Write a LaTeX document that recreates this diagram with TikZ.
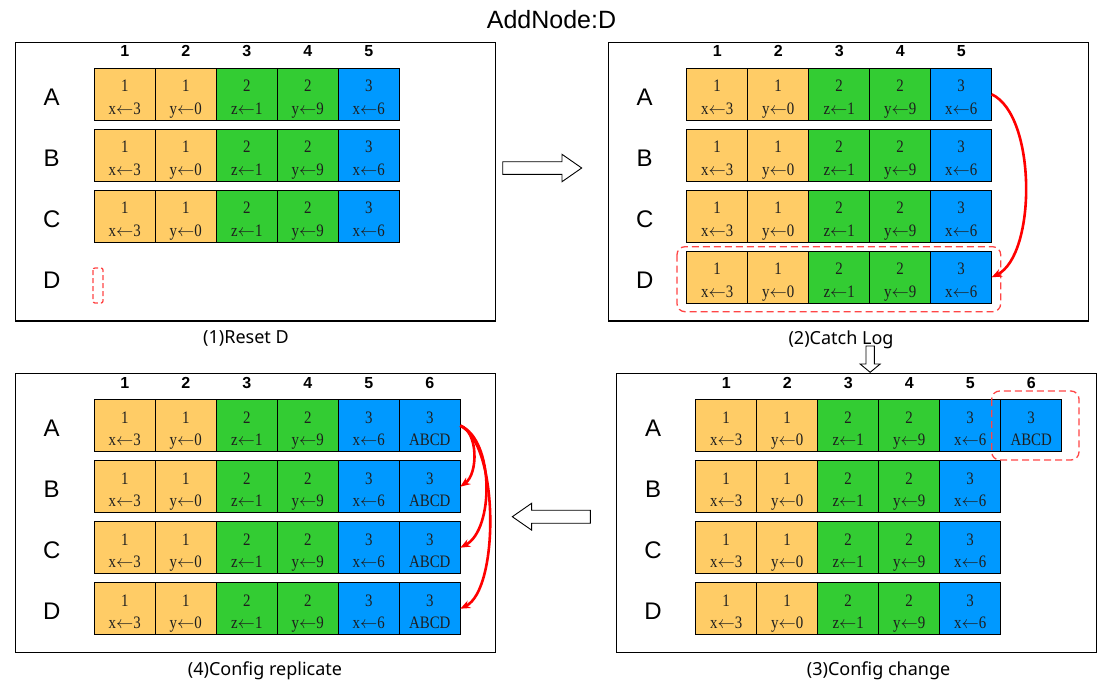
\documentclass[tikz,border=0pt]{standalone}
\usepackage{fontspec}
\setmainfont{Liberation Sans}
\newfontfamily\capfont{Noto Sans}
\newfontfamily\cellfont[FakeStretch=0.85]{Liberation Serif}
\usetikzlibrary{calc,arrows.meta}

\definecolor{corange}{HTML}{FFCC66}
\definecolor{cgreen}{HTML}{33CC33}
\definecolor{cblue}{HTML}{0099FF}
\definecolor{dashred}{HTML}{FF4545}
\definecolor{celltext}{HTML}{1E1E1E}

\newcommand\larr{$\leftarrow$}

\tikzset{
 panel/.style={draw=black, line width=1.2pt, minimum width=480pt, minimum height=278.7pt, inner sep=0pt, outer sep=0pt, anchor=north west},
 cell/.style={draw=black, line width=1.1pt, minimum width=61pt, minimum height=52pt, inner sep=0pt, outer sep=0pt, anchor=north west},
 celltxt/.style={font=\cellfont\fontsize{17.5}{17.5}\selectfont, inner sep=0pt, anchor=base, text=celltext},
 rowlab/.style={font=\fontsize{24}{24}\selectfont, inner sep=0pt, anchor=base},
 colhead/.style={font=\bfseries\fontsize{16}{16}\selectfont, inner sep=0pt, anchor=base},
 captxt/.style={font=\capfont\fontsize{18}{18}\selectfont, inner sep=0pt, anchor=base},
 hollow/.style={draw=black, line width=0.9pt, fill=white, line join=miter},
 redarrow/.style={draw=red, line width=2.6pt, -{Stealth[length=10pt,width=8pt]}},
 dashbox/.style={draw=dashred, line width=1.3pt, dash pattern=on 7pt off 4pt, rounded corners=8pt},
}

\def\cellsfive{1/1/x\larr3/corange,2/1/y\larr0/corange,3/2/z\larr1/cgreen,4/2/y\larr9/cgreen,5/3/x\larr6/cblue}
\def\cellssix{1/1/x\larr3/corange,2/1/y\larr0/corange,3/2/z\larr1/cgreen,4/2/y\larr9/cgreen,5/3/x\larr6/cblue,6/3/ABCD/cblue}

% #1 name prefix, #2 x of first cell, #3 top y, #4 cell list
\newcommand\cellrow[4]{%
  \foreach \i/\a/\b/\c in #4 {
    \node[cell, fill=\c] (#1\i) at ({#2+61*(\i-1)}, #3) {};
    \node[celltxt] (#1\i t) at ($(#1\i.north)+(0,23.4)$) {\a};
    \node[celltxt] (#1\i b) at ($(#1\i.north)+(0,45.7)$) {\b};
  }}

% #1 prefix, #2 x of first cell centre, #3 baseline y, #4 count
\newcommand\colheads[4]{%
  \foreach \i in {1,...,#4} {
    \node[colhead] (#1h\i) at ({#2+61*(\i-1)}, #3) {\i};
  }}

% #1 prefix, #2 label x, #3 first row top y, #4 letters
\newcommand\rowlabels[4]{%
  \foreach \L [count=\k] in {#4} {
    \node[rowlab] (#1l\L) at (#2, {#3+61*(\k-1)+37}) {\L};
  }}

\begin{document}
\begin{tikzpicture}[x=1pt,y=-1pt]
\useasboundingbox (0,0) rectangle (1098,683);

\node[font=\fontsize{25}{25}\selectfont, inner sep=0pt, anchor=base] (title) at (551.5,28.5) {AddNode:D};

% ---------- Panel 1 ----------
\node[panel] (P1) at (15.3,42.3) {};
\colheads{p1}{124.8}{56.7}{5}
\rowlabels{p1}{51.7}{68.3}{A,B,C,D}
\cellrow{p1A}{94.3}{68.3}{\cellsfive}
\cellrow{p1B}{94.3}{129.3}{\cellsfive}
\cellrow{p1C}{94.3}{190.3}{\cellsfive}
\draw[dashbox, rounded corners=2pt, dash pattern=on 5pt off 3pt] (93,268) rectangle (103,303);
\node[captxt] (cap1) at (246,343.5) {(1)Reset D};

% ---------- Panel 2 ----------
\node[panel] (P2) at (608.3,42.3) {};
\colheads{p2}{717.2}{56.7}{5}
\rowlabels{p2}{644.7}{68.3}{A,B,C,D}
\cellrow{p2A}{686.7}{68.3}{\cellsfive}
\cellrow{p2B}{686.7}{129.3}{\cellsfive}
\cellrow{p2C}{686.7}{190.3}{\cellsfive}
\cellrow{p2D}{686.7}{251.3}{\cellsfive}
\draw[dashbox] (677,246.7) rectangle (1000.7,311.7);
\draw[redarrow] (p2A5.east) .. controls +(45,21) and +(45,-22) .. (p2D5.east);
\node[captxt] (cap2) at (841,344.5) {(2)Catch Log};

% ---------- Panel 4 (bottom left) ----------
\node[panel] (P4) at (15.3,373.7) {};
\colheads{p4}{124.8}{388.1}{6}
\rowlabels{p4}{51.7}{399.7}{A,B,C,D}
\cellrow{p4A}{94.3}{399.7}{\cellssix}
\cellrow{p4B}{94.3}{460.7}{\cellssix}
\cellrow{p4C}{94.3}{521.7}{\cellssix}
\cellrow{p4D}{94.3}{582.7}{\cellssix}
\draw[redarrow] (p4A6.east) .. controls +(18,6) and +(18,-13) .. (p4B6.east);
\draw[redarrow] (p4A6.east) .. controls +(34,14) and +(34,-18) .. (p4C6.east);
\draw[redarrow] (p4A6.east) .. controls +(39,19) and +(39,-19) .. (p4D6.east);
\node[captxt] (cap4) at (265,675) {(4)Config replicate};

% ---------- Panel 3 (bottom right) ----------
\node[panel] (P3) at (616.7,373.7) {};
\colheads{p3}{726.2}{388.1}{6}
\rowlabels{p3}{653.1}{399.7}{A,B,C,D}
\cellrow{p3A}{695.7}{399.7}{\cellssix}
\cellrow{p3B}{695.7}{460.7}{\cellsfive}
\cellrow{p3C}{695.7}{521.7}{\cellsfive}
\cellrow{p3D}{695.7}{582.7}{\cellsfive}
\draw[dashbox] (991.7,391) rectangle (1079,460);
\node[captxt] (cap3) at (878.6,675) {(3)Config change};

% ---------- hollow block arrows ----------
\draw[hollow] (502.7,161.7) -- (562,161.7) -- (562,154.3) -- (581.7,168) -- (562,181.7) -- (562,174.3) -- (502.7,174.3) -- cycle;
\draw[hollow] (866,346) -- (874.3,346) -- (874.3,364) -- (880.2,364) -- (870.15,372.3) -- (860.1,364) -- (866,364) -- cycle;
\draw[hollow] (590.4,510.2) -- (531.6,510.2) -- (531.6,503.3) -- (512.3,516.7) -- (531.6,530.1) -- (531.6,523.2) -- (590.4,523.2) -- cycle;
\end{tikzpicture}
\end{document}
